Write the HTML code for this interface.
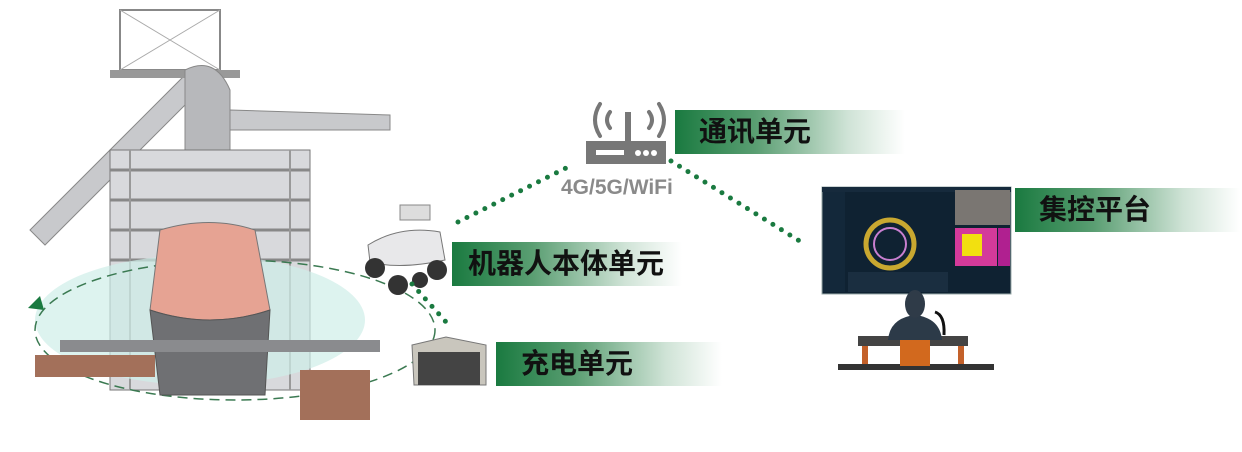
<!DOCTYPE html>
<html><head><meta charset="utf-8"><style>
body{margin:0;width:1242px;height:452px;background:#fff;position:relative;overflow:hidden;font-family:"Liberation Sans","Noto Sans CJK SC",sans-serif}
.lb{position:absolute;height:44px;background:linear-gradient(90deg,#1a7a40 0%,#5a9e72 35%,#cfe3d6 75%,rgba(255,255,255,0) 100%);font-weight:bold;font-size:28px;color:#111;line-height:44px;box-sizing:border-box}
svg{position:absolute;left:0;top:0}
</style></head><body>
<svg width="1242" height="452">
<g>
<path d="M30 230 L190 70 L205 85 L45 245 Z" fill="#c8c9cc" stroke="#888"/>
<path d="M230 110 L390 115 L390 130 L230 130Z" fill="#c8c9cc" stroke="#888"/>
<rect x="120" y="10" width="100" height="60" fill="none" stroke="#888" stroke-width="2"/>
<path d="M120 10 L220 70 M220 10 L120 70" stroke="#aaa"/>
<rect x="110" y="70" width="130" height="8" fill="#999"/>
<path d="M185 70 Q215 55 230 90 L230 190 L185 190Z" fill="#b7b8bb" stroke="#888"/>
<rect x="110" y="150" width="200" height="240" fill="#d8d9dc" stroke="#777"/>
<path d="M110 170 H310 M110 200 H310 M110 230 H310 M110 260 H310" stroke="#888" stroke-width="3"/>
<path d="M130 150 V390 M290 150 V390" stroke="#999" stroke-width="2"/>
<ellipse cx="200" cy="320" rx="165" ry="65" fill="#cfeee8" opacity="0.7"/>
<ellipse cx="235" cy="330" rx="200" ry="70" fill="none" stroke="#3b7a52" stroke-width="1.5" stroke-dasharray="10 6"/>
<path d="M160 230 Q210 215 255 230 L270 310 Q210 330 150 310 Z" fill="#e6a393" stroke="#777"/>
<path d="M150 310 Q210 330 270 310 L265 395 L160 395Z" fill="#6f7073" stroke="#555"/>
<rect x="35" y="355" width="120" height="22" fill="#a3705a"/>
<rect x="300" y="370" width="70" height="50" fill="#a3705a"/>
<rect x="60" y="340" width="320" height="12" fill="#8a8b8e"/>
<path d="M40 296 L28 308 L44 310 Z" fill="#1a7a40"/>
</g>
<g>
<rect x="400" y="205" width="30" height="15" fill="#ddd" stroke="#888"/>
<path d="M368 245 Q400 225 440 232 L445 260 Q400 270 370 262Z" fill="#e8e8ea" stroke="#777"/>
<circle cx="375" cy="268" r="10" fill="#333"/><circle cx="398" cy="285" r="10" fill="#333"/><circle cx="437" cy="270" r="10" fill="#333"/><circle cx="420" cy="280" r="8" fill="#333"/>
</g>
<path d="M412 345 L446 337 L486 345 L486 385 L414 385Z" fill="#c9c6bd" stroke="#777"/>
<rect x="418" y="352" width="62" height="33" fill="#444"/>
<g stroke="#1a7a40" stroke-width="5" stroke-linecap="round" stroke-dasharray="0 10" fill="none">
<path d="M458 222 L572 165"/>
<path d="M671 161 L806 245"/>
<path d="M412 284 L446 322"/>
</g>
<g fill="none" stroke="#777" stroke-width="4" stroke-linecap="round">
<path d="M600 104 Q590 120 600 136"/><path d="M610 112 Q604 120 610 128"/>
<path d="M659 104 Q669 120 659 136"/><path d="M649 112 Q655 120 649 128"/>
</g>
<rect x="625" y="112" width="6" height="30" fill="#777"/>
<rect x="586" y="141" width="80" height="23" fill="#777"/>
<rect x="596" y="150" width="28" height="5" fill="#fff"/>
<circle cx="638" cy="153" r="3" fill="#fff"/><circle cx="646" cy="153" r="3" fill="#fff"/><circle cx="654" cy="153" r="3" fill="#fff"/>
<text x="561" y="194" font-family="Liberation Sans,sans-serif" font-size="21" font-weight="bold" fill="#8a8a8a">4G/5G/WiFi</text>
<rect x="822" y="187" width="189" height="107" fill="#0f2232" stroke="#9aa" />
<rect x="822" y="187" width="189" height="5" fill="#162a3c"/>
<rect x="823" y="192" width="22" height="100" fill="#13283a"/>
<circle cx="890" cy="244" r="24" fill="none" stroke="#c9a830" stroke-width="5"/>
<circle cx="890" cy="244" r="16" fill="#0f2232" stroke="#c87fd0" stroke-width="2"/>
<rect x="955" y="190" width="55" height="35" fill="#7a7672"/>
<rect x="955" y="228" width="42" height="38" fill="#d43a9a"/>
<rect x="962" y="234" width="20" height="22" fill="#f2e010"/>
<rect x="998" y="228" width="12" height="38" fill="#b02090"/>
<rect x="848" y="272" width="100" height="20" fill="#1a2e40"/>
<rect x="838" y="364" width="156" height="6" fill="#333"/>
<rect x="858" y="336" width="110" height="10" fill="#444"/>
<rect x="862" y="346" width="6" height="18" fill="#c4612a"/><rect x="958" y="346" width="6" height="18" fill="#c4612a"/>
<path d="M888 340 Q890 318 915 315 Q940 318 942 340Z" fill="#2c3a48"/>
<ellipse cx="915" cy="304" rx="10" ry="14" fill="#2f3b48"/>
<rect x="900" y="340" width="30" height="26" fill="#d2691e"/>
<path d="M935 312 Q945 315 944 335" stroke="#111" stroke-width="3" fill="none"/>
</svg>
<div class="lb" style="left:675px;top:110px;width:230px;padding-left:24px">通讯单元</div>
<div class="lb" style="left:1015px;top:188px;width:225px;padding-left:24px">集控平台</div>
<div class="lb" style="left:452px;top:242px;width:230px;padding-left:16px">机器人本体单元</div>
<div class="lb" style="left:496px;top:342px;width:226px;padding-left:25px">充电单元</div>
</body></html>
